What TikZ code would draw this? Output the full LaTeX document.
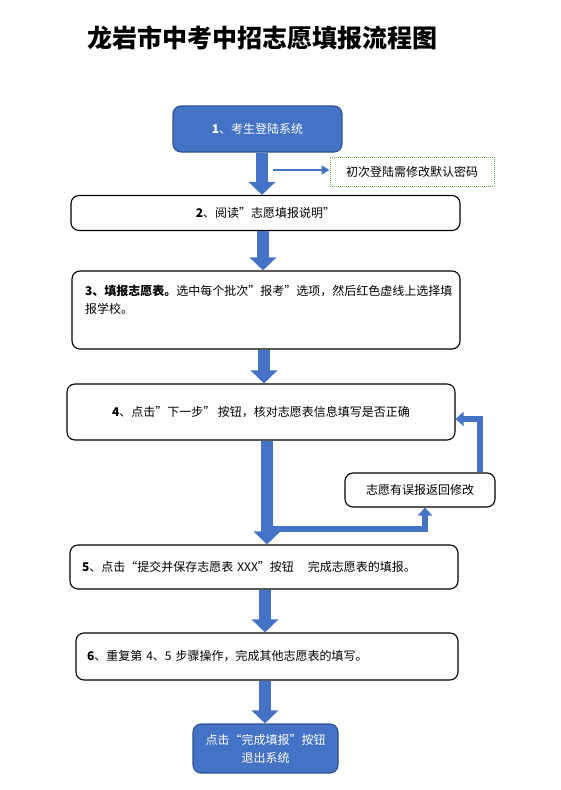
\documentclass[tikz,border=0pt]{standalone}
\usepackage{fontspec}
\setmainfont{Noto Sans CJK SC}
\usetikzlibrary{positioning,arrows.meta,calc}
\definecolor{boxblue}{HTML}{4472C4}
\definecolor{edgeblue}{HTML}{2F528F}
\definecolor{notegreen}{HTML}{70AD47}
\tikzset{
  stepbox/.style={draw=black, line width=1.1pt, rounded corners=8pt, fill=white,
    inner sep=0pt, font=\fontsize{12pt}{18pt}\selectfont},
  bluebox/.style={stepbox, draw=edgeblue, fill=boxblue, text=white},
  notebox/.style={draw=notegreen, densely dotted, line width=1pt, inner sep=0pt,
    font=\fontsize{12pt}{18pt}\selectfont},
  bigarrow/.style={boxblue, line width=12pt, -{Triangle[length=13pt,width=26pt]}},
  backarrow/.style={boxblue, line width=6pt, -{Triangle[length=8pt,width=14pt]}},
  thinarrow/.style={boxblue, line width=2.5pt, -{Triangle[length=8pt,width=9pt]}},
}

\begin{document}
\begin{tikzpicture}[x=1pt,y=-1pt]
    \useasboundingbox (0,0) rectangle (561,790);
    \node[font=\fontsize{25pt}{30pt}\selectfont\bfseries] (title) at (262,38) {龙岩市中考中招志愿填报流程图};
    % steps
    \node[bluebox, minimum width=169pt, minimum height=46pt] (login) at (257.5,129) {\textbf{1}、考生登陆系统};
    \node[notebox, minimum width=164pt, minimum height=29pt] (pwd) at (412,171.5) {初次登陆需修改默认密码};
    \node[stepbox, minimum width=389pt, minimum height=35pt] (read) at (265.5,213) {\textbf{2}、阅读"志愿填报说明"};
    \node[stepbox, minimum width=388pt, minimum height=78pt] (fill) at (266,310)
      {\parbox[c][49pt][t]{362pt}{\textbf{3、填报志愿表。}选中每个批次"报考"选项，然后红色虚线上选择填\\报学校。}};
    \node[stepbox, minimum width=388pt, minimum height=56pt] (check) at (261,412) {\textbf{4}、点击"下一步" 按钮，核对志愿表信息填写是否正确};
    \node[stepbox, minimum width=150pt, minimum height=34pt] (err) at (420,490) {志愿有误报返回修改};
    \node[stepbox, minimum width=388pt, minimum height=44pt, text width=364pt, align=left] (submit) at (264,567)
      {\textbf{5}、点击“提交并保存志愿表 XXX”按钮\hspace{14pt}完成志愿表的填报。};
    \node[stepbox, minimum width=382pt, minimum height=47pt, text width=360pt, align=left] (repeat) at (267,656.5)
      {\textbf{6}、重复第 4、5 步骤操作，完成其他志愿表的填写。};
    \node[bluebox, minimum width=145pt, minimum height=49pt, align=center] (finish) at (265.5,748.5) {点击“完成填报”按钮\\退出系统};
    % arrows
    \coordinate (pwdfrom) at (273,170);
    \coordinate (fork) at (267,529);
    \draw[thinarrow] (pwdfrom) -- (pwd.west |- pwdfrom);
    \draw[bigarrow] (login.south -| 262,0) -- (read.north -| 262,0);
    \draw[bigarrow] (read.south -| 263,0) -- (fill.north -| 263,0);
    \draw[bigarrow] (fill.south -| 264,0) -- (check.north -| 264,0);
    \draw[backarrow] (fork) -| ([xshift=5pt]err.south);
    \draw[backarrow] ([xshift=60pt]err.north) |- ([yshift=-7pt]check.east);
    \draw[bigarrow] (check.south -| fork) -- (submit.north -| fork);
    \draw[bigarrow] (submit.south -| 265,0) -- (repeat.north -| 265,0);
    \draw[bigarrow] (repeat.south -| 265,0) -- (finish.north -| 265,0);
\end{tikzpicture}
\end{document}
